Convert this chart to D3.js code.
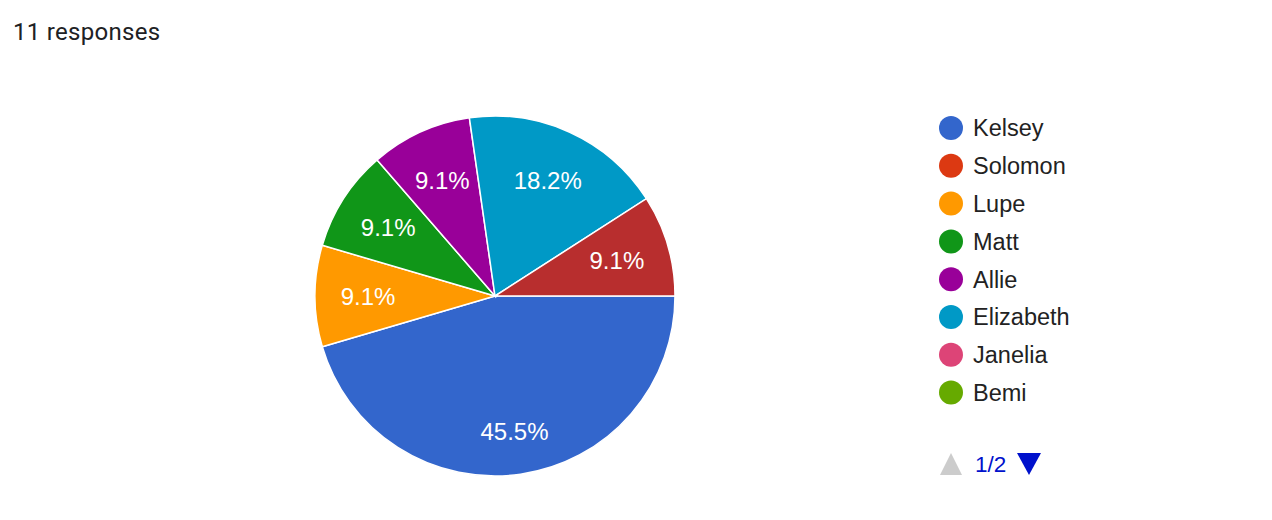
<!DOCTYPE html>
<html>
<head>
<meta charset="utf-8">
<script src="https://cdn.jsdelivr.net/npm/d3@7"></script>
<style>
  body { margin: 0; background: #fff; }
</style>
</head>
<body>
<div id="vis"></div>
<script>
const width = 1272;
const height = 520;

// answers, in the order of the form's options
const names = ["Kelsey", "Solomon", "Lupe", "Matt", "Allie", "Elizabeth", "Janelia", "Bemi", "Other"];
const counts = [5, 0, 1, 1, 1, 2, 0, 0, 1];
const colors = ["#3366cc", "#dc3912", "#ff9900", "#109618", "#990099", "#0099c6", "#dd4477", "#66aa00", "#b82e2e"];
const legendPageSize = 8;
const totalResponses = 11;

const cx = 495, cy = 296, radius = 180;

const svg = d3.select("#vis")
    .append("svg")
    .attr("width", width)
    .attr("height", height);

svg.append("text")
    .attr("x", 13)
    .attr("y", 40)
    .style("font-family", "Roboto, Arial, sans-serif")
    .style("font-size", "24px")
    .style("letter-spacing", "0.3px")
    .style("fill", "#202124")
    .text(`${totalResponses} responses`);

const data = names.map((d, i) => ({ name: d, value: counts[i], color: colors[i] }));
const colorScale = d3.scaleOrdinal(names, colors);

const pie = d3.pie()
    .sort(null)
    .value(d => d.value)
    .startAngle(Math.PI / 2)
    .endAngle(Math.PI / 2 + 2 * Math.PI);

const arcs = pie(data).filter(d => d.data.value > 0);
const total = d3.sum(counts);

const arc = d3.arc().innerRadius(0).outerRadius(radius);

const g = svg.append("g")
    .attr("transform", `translate(${cx},${cy})`);

g.selectAll(".slice")
    .data(arcs)
    .enter()
    .append("path")
    .attr("class", "slice")
    .attr("d", arc)
    .style("fill", d => colorScale(d.data.name))
    .style("stroke", "#fff")
    .style("stroke-width", 1.5);

g.selectAll(".pct")
    .data(arcs)
    .enter()
    .append("text")
    .attr("class", "pct")
    .attr("transform", d => {
        const a = (d.startAngle + d.endAngle) / 2;
        const r = (d.endAngle - d.startAngle) > Math.PI / 2 ? 137 : 127;
        return `translate(${Math.sin(a) * r},${-Math.cos(a) * r})`;
    })
    .attr("text-anchor", "middle")
    .attr("dy", "0.36em")
    .style("font-family", "Arial, 'Liberation Sans', sans-serif")
    .style("font-size", "24px")
    .style("fill", "#fff")
    .text(d => (d.data.value / total * 100).toFixed(1) + "%");

// legend, first page only
const legend = svg.selectAll(".legend")
    .data(data.slice(0, legendPageSize))
    .enter()
    .append("g")
    .attr("class", "legend")
    .attr("transform", (d, i) => `translate(951,${128 + i * 37.8})`);

legend.append("circle")
    .attr("r", 12)
    .style("fill", d => colorScale(d.name));

legend.append("text")
    .attr("x", 22)
    .attr("dy", "0.36em")
    .style("font-family", "Arial, 'Liberation Sans', sans-serif")
    .style("font-size", "23.5px")
    .style("fill", "#222")
    .text(d => d.name);

// pager
const pager = svg.append("g").attr("transform", "translate(951,464)");
pager.append("path")
    .attr("d", "M-11,11 L11,11 L0,-11 Z")
    .style("fill", "#ccc");
pager.append("text")
    .attr("x", 24)
    .attr("dy", "0.36em")
    .style("font-family", "Arial, 'Liberation Sans', sans-serif")
    .style("font-size", "22.5px")
    .style("fill", "#0011cc")
    .text(`1/${Math.ceil(names.length / legendPageSize)}`);
pager.append("path")
    .attr("d", "M66,-11 L90,-11 L78,11 Z")
    .style("fill", "#0011cc");
</script>
</body>
</html>
